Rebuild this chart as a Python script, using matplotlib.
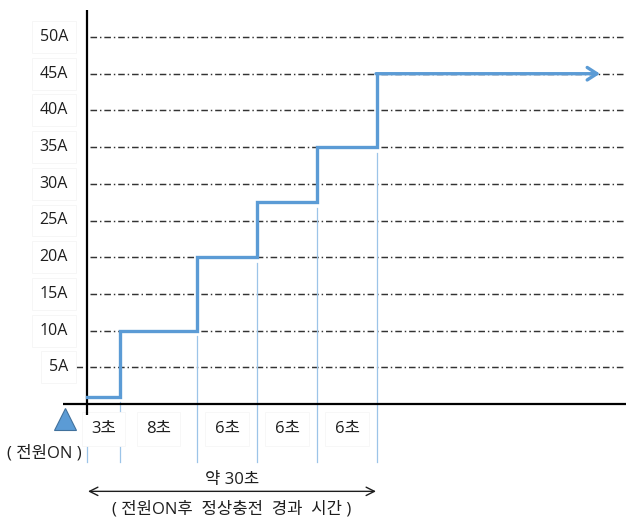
import matplotlib
matplotlib.use("Agg")
import matplotlib.pyplot as plt

plt.rcParams['font.family'] = ['Open Sans', 'Noto Sans CJK KR', 'DejaVu Sans']

# ---- data ----
y_ticks = [5, 10, 15, 20, 25, 30, 35, 40, 45, 50]
y_tick_labels = ["5A", "10A", "15A", "20A", "25A", "30A", "35A", "40A", "45A", "50A"]
step_x = [0, 3.3, 11, 17, 23, 29]          # schematic time positions of each step start
step_current = [0.9, 10, 20, 27.5, 35, 45]  # current level (A) of each step
arrow_end_x = 51.3
segment_labels = ["3초", "8초", "6초", "6초", "6초"]
power_on_label = "( 전원ON )"
total_label = "약 30초"
caption = "( 전원ON후  정상충전  경과  시간 )"

BLUE = '#5b9bd5'
LIGHT_BLUE = '#9cc4e8'
TXT = '#1e1e1e'
FS = 12

fig = plt.figure(figsize=(6.26, 5.19), dpi=100)
# pixel mapping: x_px = 87 + 10*t, y_px = 404 - 7.34*A
ax = fig.add_axes([0, 0, 1, 1])
ax.set_xlim(-8.7, 53.9)
ax.set_ylim((404 - 519) / 7.34, 404 / 7.34)
ax.axis('off')

# grid lines (dash-dot)
for v in y_ticks:
    x0 = -1.1 if v == 5 else 0.3
    ax.plot([x0, 53.9], [v, v], color='#333333', lw=1.05,
            linestyle=(0, (4.5, 2.0, 1.0, 2.0)), zorder=1)

# y tick labels with faint boxes
for v, lab in zip(y_ticks, y_tick_labels):
    ax.text(-1.9, v, lab, ha='right', va='center', fontsize=FS - 0.5, color=TXT,
            bbox=dict(boxstyle='square,pad=0.5', fc='white', ec='#f5f5f5', lw=0.6),
            zorder=3)

# axes lines
ax.plot([-2.4, 53.9], [0, 0], color='black', lw=1.6, zorder=4, solid_capstyle='butt')
ax.plot([0, 0], [(404 - 10) / 7.34, -1.5], color='black', lw=1.6, zorder=4,
        solid_capstyle='butt')

# vertical thin light-blue guide lines
bottom_guide = (404 - 462) / 7.34
prev_levels = [None] + step_current[:-1]
for i, (x, prev) in enumerate(zip(step_x, prev_levels)):
    if prev is None:
        top = -1.5
    else:
        top = prev - 0.8 if i > 1 else 0.3
    ax.plot([x, x], [top, bottom_guide], color=LIGHT_BLUE, lw=0.9, zorder=2)

# step line
xs = []
ys = []
for i, (x, c) in enumerate(zip(step_x, step_current)):
    if i > 0:
        xs.append(x)
        ys.append(step_current[i - 1])
    xs.append(x)
    ys.append(c)
ax.plot(xs, ys, color=BLUE, lw=2.4, zorder=5, solid_joinstyle='miter')
ax.annotate('', xy=(arrow_end_x, step_current[-1]), xytext=(step_x[-1] - 0.1, step_current[-1]),
            arrowprops=dict(arrowstyle='->,head_length=0.7,head_width=0.45', color=BLUE,
                            lw=2.4, shrinkA=0, shrinkB=0), zorder=5)

# power-on triangle
ax.plot([-2.25], [-2.1], marker='^', markersize=16.5, color=BLUE,
        markeredgecolor='#41719c', markeredgewidth=0.8, zorder=6, clip_on=False)
ax.text(-4.3, -6.75, power_on_label, ha='center', va='center', fontsize=FS, color=TXT)

# segment labels
bounds = step_x
for i, lab in enumerate(segment_labels):
    cx = (bounds[i] + bounds[i + 1]) / 2
    ax.text(cx, -3.4, lab, ha='center', va='center', fontsize=FS, color=TXT,
            bbox=dict(boxstyle='square,pad=0.55', fc='white', ec='#f6f6f6', lw=0.6),
            zorder=3)

# total duration arrow & labels
mid = (step_x[0] + step_x[-1]) / 2
ax.text(mid, -10.4, total_label, ha='center', va='center', fontsize=FS, color=TXT)
ax.annotate('', xy=(step_x[-1] - 0.1, -11.9), xytext=(step_x[0] + 0.1, -11.9),
            arrowprops=dict(arrowstyle='<->,head_length=0.6,head_width=0.3', color=TXT,
                            lw=1.0, shrinkA=0, shrinkB=0))
ax.text(mid, -14.35, caption, ha='center', va='center', fontsize=FS, color=TXT)

fig.savefig('out.png', dpi=100)
